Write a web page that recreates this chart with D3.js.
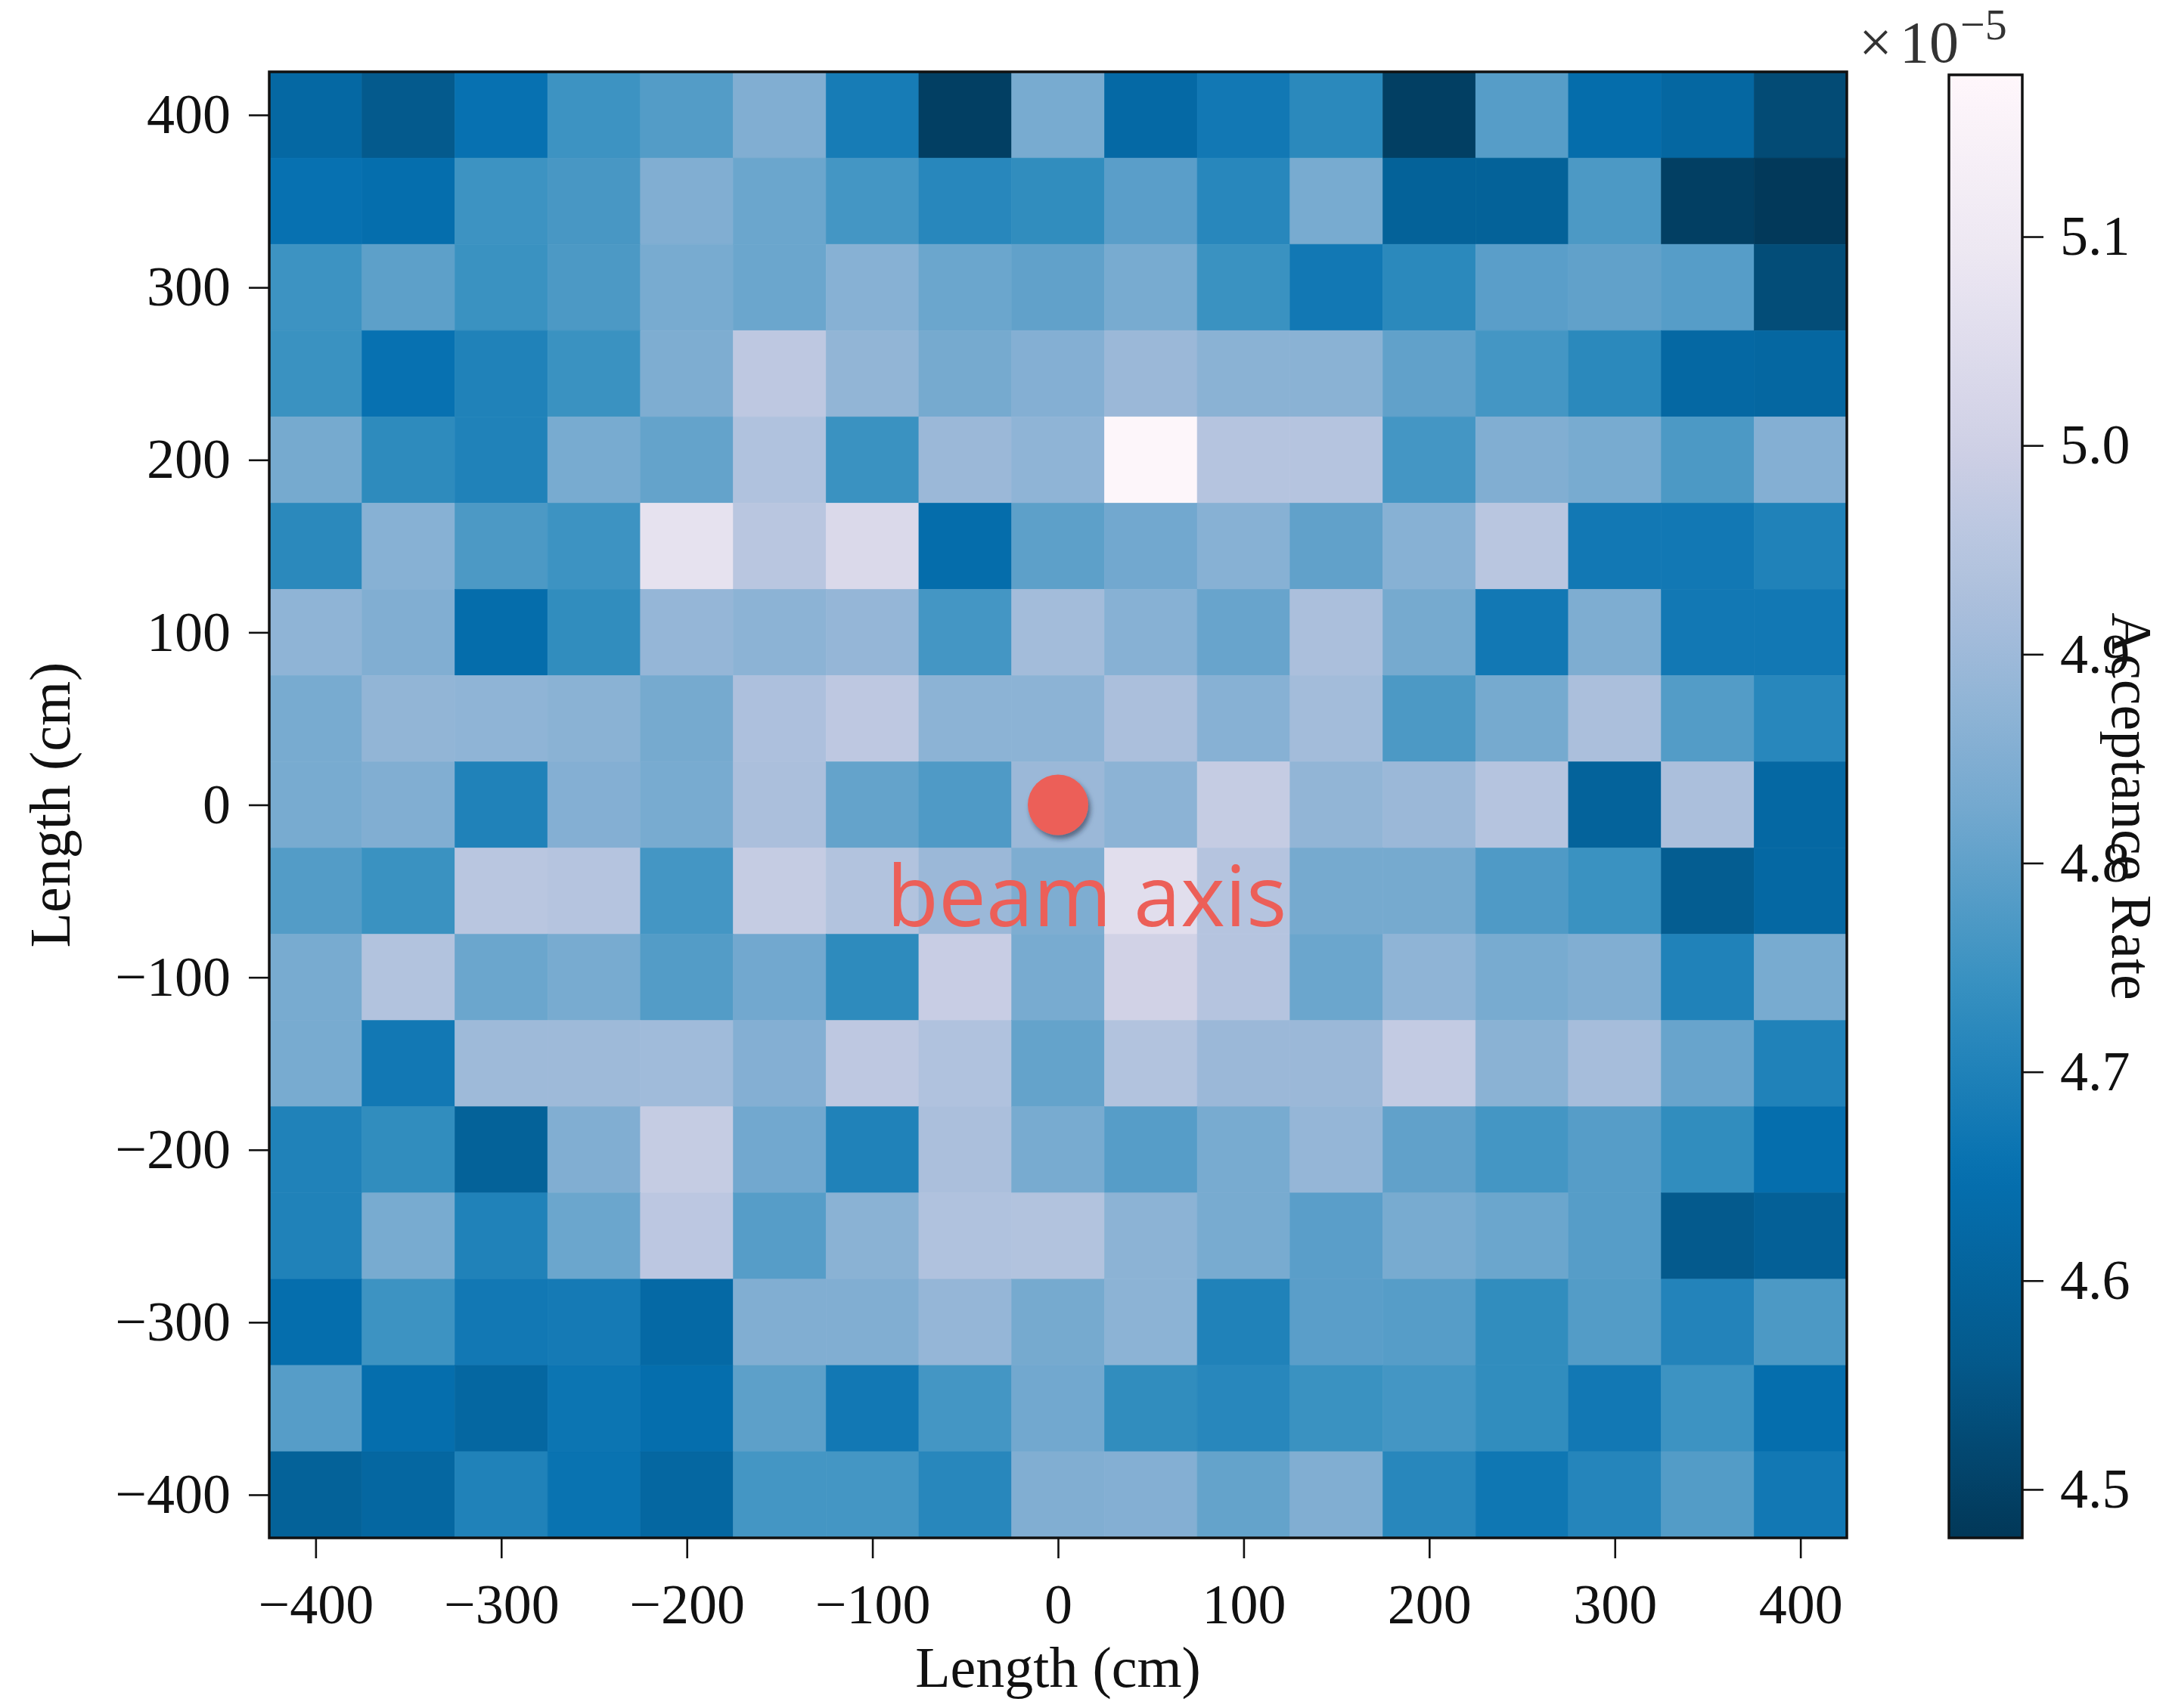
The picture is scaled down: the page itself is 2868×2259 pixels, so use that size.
<!DOCTYPE html>
<html>
<head>
<meta charset="utf-8">
<script src="https://cdn.jsdelivr.net/npm/d3@7"></script>
<style>
    body { margin: 0; background: #fff; }
    svg { display: block; }
    .tick text { font-family: 'Liberation Serif', 'DejaVu Serif', serif; fill: #111; }
</style>
</head>
<body>
<svg></svg>
<script>
// bin centres (cm)
const xBins = [-400, -350, -300, -250, -200, -150, -100, -50, 0, 50, 100, 150, 200, 250, 300, 350, 400];
const yBins = [400, 350, 300, 250, 200, 150, 100, 50, 0, -50, -100, -150, -200, -250, -300, -350, -400];

const axisTicks = [-400, -300, -200, -100, 0, 100, 200, 300, 400];
const cbarTicks = [4.5, 4.6, 4.7, 4.8, 4.9, 5.0, 5.1];

// acceptance rate in units of 1e-5, one row per y bin (first row is y = 400)
const acceptanceRows = [
    [4.620, 4.565, 4.655, 4.750, 4.780, 4.850, 4.685, 4.495, 4.835, 4.625, 4.675, 4.720, 4.495, 4.785, 4.640, 4.615, 4.525],
    [4.655, 4.645, 4.750, 4.765, 4.850, 4.815, 4.760, 4.715, 4.730, 4.790, 4.715, 4.835, 4.595, 4.595, 4.770, 4.495, 4.480],
    [4.750, 4.795, 4.745, 4.770, 4.835, 4.815, 4.860, 4.815, 4.800, 4.835, 4.745, 4.675, 4.720, 4.790, 4.800, 4.785, 4.530],
    [4.745, 4.655, 4.700, 4.745, 4.845, 4.965, 4.880, 4.830, 4.855, 4.895, 4.865, 4.865, 4.800, 4.760, 4.720, 4.620, 4.615],
    [4.830, 4.725, 4.700, 4.835, 4.805, 4.935, 4.745, 4.895, 4.875, 5.170, 4.945, 4.945, 4.760, 4.850, 4.835, 4.770, 4.855],
    [4.720, 4.860, 4.770, 4.750, 5.070, 4.955, 5.035, 4.640, 4.795, 4.825, 4.860, 4.800, 4.860, 4.955, 4.675, 4.675, 4.700],
    [4.875, 4.850, 4.640, 4.730, 4.885, 4.870, 4.885, 4.760, 4.910, 4.860, 4.810, 4.925, 4.830, 4.675, 4.845, 4.675, 4.675],
    [4.835, 4.880, 4.875, 4.865, 4.830, 4.930, 4.965, 4.870, 4.870, 4.925, 4.860, 4.910, 4.770, 4.830, 4.925, 4.780, 4.715],
    [4.835, 4.850, 4.700, 4.855, 4.835, 4.925, 4.805, 4.775, 4.895, 4.870, 4.980, 4.880, 4.895, 4.945, 4.600, 4.925, 4.620],
    [4.780, 4.745, 4.955, 4.945, 4.760, 4.980, 4.940, 4.895, 4.845, 5.055, 4.945, 4.830, 4.830, 4.775, 4.745, 4.575, 4.620],
    [4.835, 4.940, 4.815, 4.835, 4.780, 4.825, 4.725, 4.985, 4.835, 5.005, 4.945, 4.815, 4.875, 4.835, 4.850, 4.700, 4.835],
    [4.835, 4.675, 4.900, 4.900, 4.905, 4.855, 4.965, 4.935, 4.805, 4.940, 4.895, 4.895, 4.975, 4.865, 4.915, 4.810, 4.700],
    [4.700, 4.730, 4.595, 4.850, 4.980, 4.825, 4.700, 4.925, 4.835, 4.785, 4.835, 4.885, 4.800, 4.760, 4.785, 4.730, 4.645],
    [4.700, 4.835, 4.700, 4.815, 4.960, 4.785, 4.865, 4.935, 4.940, 4.870, 4.835, 4.790, 4.835, 4.815, 4.785, 4.565, 4.590],
    [4.645, 4.750, 4.675, 4.680, 4.625, 4.850, 4.850, 4.885, 4.830, 4.870, 4.700, 4.790, 4.785, 4.730, 4.780, 4.705, 4.770],
    [4.785, 4.645, 4.615, 4.665, 4.645, 4.795, 4.675, 4.760, 4.825, 4.730, 4.715, 4.745, 4.760, 4.730, 4.675, 4.750, 4.645],
    [4.595, 4.615, 4.700, 4.660, 4.615, 4.760, 4.760, 4.715, 4.850, 4.855, 4.805, 4.850, 4.715, 4.670, 4.710, 4.780, 4.675],
];

const colorRange = [4.4768, 5.1775];
const beamAxis = { x: 0, y: 0, label: 'beam axis' };

// matplotlib PuBu, reversed
const puBuR = ['#023858', '#045a8d', '#0570b0', '#3690c0', '#74a9cf', '#a6bddb', '#d0d1e6', '#ece7f2', '#fff7fb'];

const sizes = {
    WIDTH: 2868,
    HEIGHT: 2259,
    plot: { left: 356, right: 2442, top: 95, bottom: 2034 },
    cbar: { left: 2577, right: 2674, top: 99, bottom: 2034 },
    tick: 27,
    fontSize: 74,
};

var svg = d3.select('svg')
    .attr('width', sizes.WIDTH)
    .attr('height', sizes.HEIGHT);

var defs = svg.append('defs');

// SCALES

var x = d3.scaleLinear().domain([-425, 425]).range([sizes.plot.left, sizes.plot.right]);
var y = d3.scaleLinear().domain([-425, 425]).range([sizes.plot.bottom, sizes.plot.top]);
var yC = d3.scaleLinear().domain(colorRange).range([sizes.cbar.bottom, sizes.cbar.top]);

var color = d3.scaleLinear()
    .domain(puBuR.map((c, i) => colorRange[0] + i / (puBuR.length - 1) * (colorRange[1] - colorRange[0])))
    .range(puBuR)
    .interpolate(d3.interpolateRgb)
    .clamp(true);

// CELLS

var cells = [];
acceptanceRows.forEach((row, i) => row.forEach((v, j) => cells.push({ x: xBins[j], y: yBins[i], v: v })));

var half = (xBins[1] - xBins[0]) / 2;

svg.append('g')
    .attr('class', 'cells')
    .selectAll('rect')
    .data(cells)
    .join('rect')
    .attr('x', d => x(d.x - half))
    .attr('y', d => y(d.y + half))
    .attr('width', d => x(d.x + half) - x(d.x - half))
    .attr('height', d => y(d.y - half) - y(d.y + half))
    .attr('fill', d => color(d.v))
    .attr('stroke', d => color(d.v))
    .attr('stroke-width', 0.6);

// AXES

function styleAxis(g) {
    g.select('.domain').remove();
    g.selectAll('.tick line').attr('stroke', '#111').attr('stroke-width', 2.6);
    g.selectAll('.tick text').attr('font-size', sizes.fontSize);
}

svg.append('g')
    .attr('transform', 'translate(0,' + sizes.plot.bottom + ')')
    .call(d3.axisBottom(x).tickValues(axisTicks).tickSize(sizes.tick).tickPadding(33).tickFormat(d3.format('d')))
    .call(styleAxis);

svg.append('g')
    .attr('transform', 'translate(' + sizes.plot.left + ',0)')
    .call(d3.axisLeft(y).tickValues(axisTicks).tickSize(sizes.tick).tickPadding(24).tickFormat(d3.format('d')))
    .call(styleAxis);

svg.append('rect')
    .attr('x', sizes.plot.left)
    .attr('y', sizes.plot.top)
    .attr('width', sizes.plot.right - sizes.plot.left)
    .attr('height', sizes.plot.bottom - sizes.plot.top)
    .attr('fill', 'none')
    .attr('stroke', '#111')
    .attr('stroke-width', 3.5);

svg.append('text')
    .attr('x', (sizes.plot.left + sizes.plot.right) / 2)
    .attr('y', 2231)
    .attr('text-anchor', 'middle')
    .attr('font-family', "'Liberation Serif', 'DejaVu Serif', serif")
    .attr('font-size', 76)
    .attr('fill', '#111')
    .text('Length (cm)');

svg.append('text')
    .attr('transform', 'translate(92,' + (sizes.plot.top + sizes.plot.bottom) / 2 + ') rotate(-90)')
    .attr('text-anchor', 'middle')
    .attr('font-family', "'Liberation Serif', 'DejaVu Serif', serif")
    .attr('font-size', 76)
    .attr('fill', '#111')
    .text('Length (cm)');

// COLORBAR

var grad = defs.append('linearGradient')
    .attr('id', 'cbarGrad')
    .attr('x1', 0).attr('y1', 1).attr('x2', 0).attr('y2', 0);

grad.selectAll('stop')
    .data(d3.range(0, 1.0001, 0.02))
    .join('stop')
    .attr('offset', d => d)
    .attr('stop-color', d => color(colorRange[0] + d * (colorRange[1] - colorRange[0])));

svg.append('rect')
    .attr('x', sizes.cbar.left)
    .attr('y', sizes.cbar.top)
    .attr('width', sizes.cbar.right - sizes.cbar.left)
    .attr('height', sizes.cbar.bottom - sizes.cbar.top)
    .attr('fill', 'url(#cbarGrad)')
    .attr('stroke', '#111')
    .attr('stroke-width', 3.5);

svg.append('g')
    .attr('transform', 'translate(' + sizes.cbar.right + ',0)')
    .call(d3.axisRight(yC).tickValues(cbarTicks).tickSize(28).tickPadding(22).tickFormat(d3.format('.1f')))
    .call(styleAxis);

// offset text (x 10^-5)
var mult = svg.append('text')
    .attr('x', 2458)
    .attr('y', 82)
    .attr('font-family', "'Liberation Serif', 'DejaVu Serif', serif")
    .attr('font-size', 78)
    .attr('fill', '#333');
mult.append('tspan').text('×');
mult.append('tspan').attr('dx', 10).text('10');
mult.append('tspan')
    .attr('font-size', 58)
    .attr('dx', 2)
    .attr('dy', -30)
    .text('−5');

svg.append('text')
    .attr('transform', 'translate(2793,' + (sizes.cbar.top + sizes.cbar.bottom) / 2 + ') rotate(90)')
    .attr('text-anchor', 'middle')
    .attr('font-family', "'Liberation Serif', 'DejaVu Serif', serif")
    .attr('font-size', 76)
    .attr('fill', '#111')
    .text('Acceptance Rate');

// BEAM AXIS MARKER

var shadow = defs.append('filter')
    .attr('id', 'shadow')
    .attr('x', '-30%').attr('y', '-30%').attr('width', '160%').attr('height', '160%');
shadow.append('feDropShadow')
    .attr('dx', 3).attr('dy', 5)
    .attr('stdDeviation', 3)
    .attr('flood-color', '#1a2a40')
    .attr('flood-opacity', 0.55);

svg.append('circle')
    .attr('cx', x(beamAxis.x))
    .attr('cy', y(beamAxis.y))
    .attr('r', 40)
    .attr('fill', '#ec5f58')
    .attr('filter', 'url(#shadow)');

svg.append('text')
    .attr('x', x(beamAxis.x) + 38)
    .attr('y', y(beamAxis.y) + 160)
    .attr('text-anchor', 'middle')
    .attr('font-family', "'Open Sans', 'Noto Sans', sans-serif")
    .attr('font-size', 112)
    .attr('fill', '#ec5f58')
    .text(beamAxis.label);
</script>
</body>
</html>
